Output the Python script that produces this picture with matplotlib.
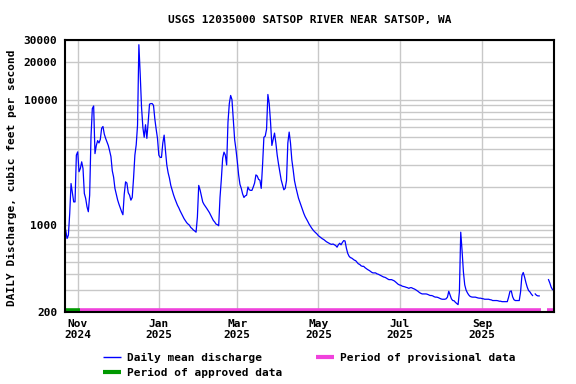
"""
Daily mean discharge, USGS 12035000 Satsop River near Satsop, WA.
Writes out.png (576x384).
"""
import matplotlib
matplotlib.use("Agg")
import matplotlib.pyplot as plt
import matplotlib.ticker as mtick
from matplotlib.lines import Line2D
import numpy as np
import pandas as pd

# ── Data ──────────────────────────────────────────────────────────────────────

START_DATE = "2024-10-23"   # first daily value

# daily mean discharge, cfs (None = no value that day)
discharge = [
    903, 775, 823, 1227, 2133, 1800, 1520, 1520, 3600, 3820,
    2650, 2810, 3180, 2810, 1775, 1620, 1390, 1268, 1720, 5040,
    8480, 8900, 3700, 4300, 4700, 4500, 4800, 5900, 6100, 5300,
    4900, 4600, 4300, 3900, 3500, 2700, 2400, 1950, 1750, 1580,
    1460, 1360, 1270, 1200, 1750, 2200, 2150, 1800, 1720, 1570,
    1650, 2350, 3600, 4350, 6250, 27500, 16000, 8700, 6000, 5000,
    6300, 4900, 6600, 9200, 9300, 9300, 9000, 7000, 5800, 4900,
    3600, 3450, 3450, 4500, 5200, 3900, 3000, 2600, 2350, 2060,
    1890, 1740, 1620, 1520, 1430, 1365, 1290, 1230, 1170, 1115,
    1075, 1035, 1010, 990, 950, 930, 905, 890, 870, 1150,
    2060, 1900, 1700, 1520, 1450, 1400, 1350, 1300, 1250, 1190,
    1130, 1080, 1050, 1010, 1000, 980, 1650, 2300, 3400, 3800,
    3600, 3000, 6600, 9300, 10800, 10000, 7000, 4800, 4000, 3200,
    2500, 2100, 1950, 1760, 1650, 1700, 1720, 2000, 1900, 1880,
    1880, 2000, 2150, 2500, 2450, 2300, 2270, 1950, 3000, 5000,
    5100, 5800, 11000, 9300, 6600, 4300, 4800, 5400, 4500, 3600,
    3050, 2650, 2280, 2080, 1900, 1950, 2250, 4500, 5500, 4500,
    3300, 2750, 2250, 2000, 1800, 1630, 1520, 1410, 1320, 1230,
    1160, 1110, 1060, 1010, 970, 935, 905, 880, 860, 840,
    815, 800, 785, 770, 760, 745, 730, 720, 710, 700,
    695, 700, 690, 680, 660, 690, 710, 690, 720, 745,
    740, 650, 590, 560, 545, 540, 530, 520, 515, 501,
    486, 481, 469, 464, 464, 453, 445, 437, 431, 424,
    416, 411, 411, 411, 404, 401, 396, 391, 386, 381,
    379, 374, 368, 363, 363, 363, 359, 355, 348, 340,
    333, 329, 327, 322, 320, 318, 315, 313, 309, 313,
    313, 309, 306, 302, 297, 292, 286, 282, 279, 279,
    279, 279, 277, 274, 271, 271, 269, 265, 263, 263,
    261, 258, 255, 253, 253, 253, 255, 263, 293, 274,
    255, 247, 246, 239, 234, 229, 290, 870, 620, 420,
    330, 300, 285, 274, 267, 264, 263, 263, 263, 261,
    259, 258, 258, 256, 255, 253, 253, 253, 253, 251,
    250, 247, 247, 247, 247, 246, 244, 244, 242, 242,
    242, 242, 242, 263, 292, 295, 265, 251, 247, 247,
    247, 247, 290, 391, 414, 381, 344, 316, 297, 290,
    279, 271, None, 279, 272, 269, 269, None, None, None,
    None, None, None, 363, 341, 316, 302,
]

# data-status periods (start, end)
approved_periods    = [("2024-10-22 12:00", "2024-11-02 18:00")]
provisional_periods = [("2024-11-02 18:00", "2025-10-15 06:00"),
                       ("2025-10-19 18:00", "2025-10-25 03:00")]

x_limits   = ("2024-10-22 11:00", "2025-10-25 03:00")
y_limits   = (200, 30000)
y_ticks    = [200, 1000, 10000, 20000, 30000]
x_ticks    = ["2024-11-01", "2025-01-01", "2025-03-01", "2025-05-01",
              "2025-07-01", "2025-09-01"]
x_labels   = ["Nov\n2024", "Jan\n2025", "Mar\n2025", "May\n2025",
              "Jul\n2025", "Sep\n2025"]

TITLE  = "USGS 12035000 SATSOP RIVER NEAR SATSOP, WA"
YLABEL = "DAILY Discharge, cubic feet per second"

# ── Style ─────────────────────────────────────────────────────────────────────

_BLUE  = "#0000ff"
_GREEN = "#009900"
_PINK  = "#f042dc"
_GRID  = "#c8c8c8"
_FONT  = dict(family="DejaVu Sans Mono", weight="bold", size=8)

plt.rcParams["font.family"] = "DejaVu Sans Mono"
plt.rcParams["font.weight"] = "bold"
plt.rcParams["font.size"] = 8

W, H = 576, 384

# ── Plot ──────────────────────────────────────────────────────────────────────

dates = pd.date_range(START_DATE, periods=len(discharge), freq="D")
flow  = np.array(discharge, dtype=float)

fig = plt.figure(figsize=(W / 100, H / 100), dpi=100)
ax  = fig.add_axes([65 / W, 1 - 312 / H, (554 - 65) / W, (312 - 40) / H])

ax.set_yscale("log")
ax.set_ylim(*y_limits)
ax.set_xlim(pd.Timestamp(x_limits[0]), pd.Timestamp(x_limits[1]))

ax.yaxis.set_major_locator(mtick.FixedLocator(y_ticks))
ax.yaxis.set_major_formatter(mtick.FixedFormatter([str(t) for t in y_ticks]))
ax.yaxis.set_minor_locator(mtick.LogLocator(base=10, subs=np.arange(2, 10)))
ax.yaxis.set_minor_formatter(mtick.NullFormatter())

ax.set_xticks([pd.Timestamp(d) for d in x_ticks])
ax.set_xticklabels(x_labels, linespacing=1.1)

ax.tick_params(axis="both", which="both", length=0)
ax.tick_params(axis="y", pad=5.5)
ax.tick_params(axis="x", pad=5.0)

ax.grid(True, which="major", axis="x", color=_GRID, linewidth=1.0)
ax.grid(True, which="both", axis="y", color=_GRID, linewidth=1.0)
ax.set_axisbelow(True)

for spine in ax.spines.values():
    spine.set_linewidth(1.5)
    spine.set_color("black")
    spine.set_zorder(5)

ax.plot(dates, flow, color=_BLUE, linewidth=0.9, zorder=3)

# status bars along the bottom of the plot
trans = ax.get_xaxis_transform()
for start, end in approved_periods:
    ax.plot([pd.Timestamp(start), pd.Timestamp(end)], [0.007, 0.007],
            transform=trans, color=_GREEN, linewidth=2.6,
            solid_capstyle="butt", zorder=4, clip_on=False)
for start, end in provisional_periods:
    ax.plot([pd.Timestamp(start), pd.Timestamp(end)], [0.007, 0.007],
            transform=trans, color=_PINK, linewidth=2.6,
            solid_capstyle="butt", zorder=4, clip_on=False)

ax.set_ylabel(YLABEL, fontsize=8, fontweight="bold")
ax.yaxis.set_label_coords(-48 / (554 - 65), (312 - 178) / (312 - 40))

fig.text(309.5 / W, 1 - 20 / H, TITLE, ha="center", va="center", **_FONT)

# ── Legend (drawn by hand to match the USGS layout) ───────────────────────────

def _legend_item(x0, y_base, color, lw, label):
    y_mid = 1 - (y_base - 4) / H
    fig.add_artist(Line2D([x0 / W, (x0 + 18) / W], [y_mid, y_mid],
                          transform=fig.transFigure, color=color,
                          linewidth=lw, solid_capstyle="butt"))
    fig.text((x0 + 24) / W, 1 - y_base / H, label,
             ha="left", va="baseline", **_FONT)

_legend_item(103, 361, _BLUE, 1.0, "Daily mean discharge")
_legend_item(103, 376, _GREEN, 3.0, "Period of approved data")
_legend_item(316, 361, _PINK, 3.0, "Period of provisional data")

fig.savefig("out.png", dpi=100)
plt.close(fig)
